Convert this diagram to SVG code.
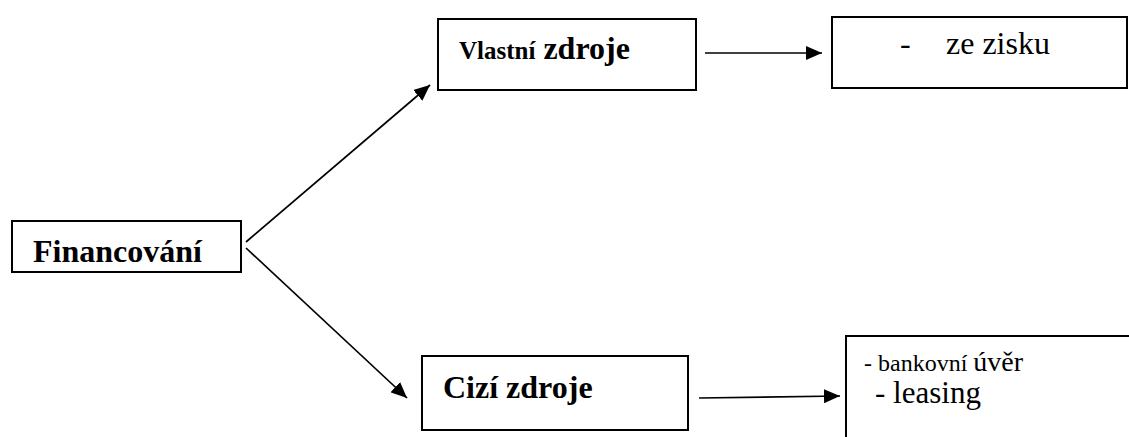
<svg xmlns="http://www.w3.org/2000/svg" width="1129" height="437" viewBox="0 0 1129 437">
  <style>
    .box { fill: #fff; stroke: #000; stroke-width: 2; }
    .b { font-family: "Liberation Serif", "Times New Roman", serif; font-weight: bold; fill: #000; }
    .r { font-family: "Liberation Serif", "Times New Roman", serif; fill: #000; }
    .link { fill: none; stroke: #000; stroke-width: 1.7; marker-end: url(#head); }
  </style>
  <defs>
    <marker id="head" markerUnits="userSpaceOnUse" markerWidth="17" markerHeight="14" refX="16" refY="7" orient="auto">
      <path d="M0,0 L16,7 L0,14 z" fill="#000"/>
    </marker>
  </defs>
  <rect width="1129" height="437" fill="#fff"/>

  <g id="financovani">
    <rect class="box" x="12" y="221" width="229" height="51"/>
    <text class="b" x="33" y="262" font-size="32">Financování</text>
  </g>

  <g id="vlastni-zdroje">
    <rect class="box" x="438" y="19" width="258" height="71"/>
    <text class="b" x="459" y="59"><tspan font-size="25">Vlastní</tspan><tspan font-size="32"> zdroje</tspan></text>
  </g>

  <g id="ze-zisku">
    <rect class="box" x="832" y="17" width="295" height="71"/>
    <text class="r" x="900" y="54" font-size="32">-</text>
    <text class="r" x="946" y="54" font-size="32">ze zisku</text>
  </g>

  <g id="cizi-zdroje">
    <rect class="box" x="422" y="356" width="266" height="74"/>
    <text class="b" x="443" y="398" font-size="32">Cizí zdroje</text>
  </g>

  <g id="uver-leasing">
    <rect class="box" x="846" y="336" width="300" height="120"/>
    <text class="r" x="864" y="371"><tspan font-size="24">- bankovní </tspan><tspan font-size="28">úvěr</tspan></text>
    <text class="r" x="875" y="403" font-size="31">- leasing</text>
  </g>

  <g id="connectors">
    <line class="link" x1="246" y1="242" x2="430" y2="85"/>
    <line class="link" x1="246" y1="248" x2="407" y2="398"/>
    <line class="link" x1="705" y1="53" x2="822" y2="53"/>
    <line class="link" x1="699" y1="398" x2="840" y2="396"/>
  </g>
</svg>
